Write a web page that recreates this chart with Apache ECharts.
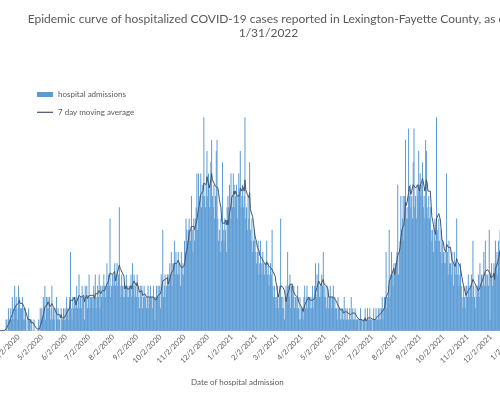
<!DOCTYPE html>
<html>
<head>
<meta charset="utf-8">
<script src="https://cdn.jsdelivr.net/npm/echarts@6/dist/echarts.min.js"></script>
<style>
html,body{margin:0;padding:0;background:#fff;overflow:hidden;width:500px;height:395px;}
#chart{position:absolute;left:-10px;top:0;width:557px;height:395px;}
</style>
</head>
<body>
<div id="chart"></div>
<script>
// ---- data ----
const titleText = 'Epidemic curve of hospitalized COVID-19 cases reported in Lexington-Fayette County, as of\n1/31/2022';
const xAxisTitle = 'Date of hospital admission';
const seriesNames = ['hospital admissions', '7 day moving average'];
const firstDate = '2020-03-02';   // first category (day)
const lastDate = '2022-01-31';    // last category (day)
const tickDay = 2;                // axis labels on the 2nd of every month
// daily hospital admissions, one row per week starting 3/2/2020
const admissions = [
  0,0,0,0,0,0,0,
  0,0,0,0,0,0,0,
  0,1,1,0,2,1,1,
  2,1,3,2,1,4,2,
  3,2,1,4,3,2,2,
  2,3,1,2,1,2,0,
  1,0,2,1,1,0,1,
  0,0,1,0,0,0,0,
  0,1,0,2,1,2,1,
  3,2,4,1,3,2,3,
  2,3,1,2,4,1,2,
  1,2,0,3,1,2,1,
  1,0,2,1,1,2,1,
  2,1,3,2,1,2,3,
  7,2,1,3,2,3,2,
  3,4,2,3,5,2,3,
  2,4,3,3,1,4,3,
  4,2,3,5,2,3,3,
  3,2,4,3,5,2,3,
  4,3,5,2,4,3,4,
  3,5,4,3,4,6,4,
  5,4,10,3,4,5,4,
  5,6,4,5,6,4,5,
  11,4,3,5,4,3,4,
  3,4,5,3,4,3,4,
  4,5,3,6,4,5,3,
  4,3,5,4,3,2,4,
  3,4,2,3,4,3,3,
  2,3,4,2,3,4,3,
  3,2,4,3,1,3,4,
  3,4,3,4,2,5,4,
  9,3,4,5,3,4,5,
  5,4,6,5,7,4,6,
  6,8,5,7,6,5,7,
  5,6,4,7,5,6,5,
  8,7,10,9,8,9,10,
  9,8,12,9,7,10,8,
  10,11,14,9,14,12,11,
  14,11,13,12,19,12,11,
  13,16,12,14,11,13,15,
  17,12,11,13,10,12,16,
  17,10,8,9,7,10,8,
  15,9,8,10,9,7,11,
  12,11,13,10,14,12,11,
  14,13,11,12,13,10,12,
  14,12,16,11,12,13,11,
  12,19,10,11,9,12,10,
  15,9,8,10,7,8,9,
  8,7,6,7,8,5,6,
  8,6,5,7,6,5,6,
  6,8,5,6,4,5,6,
  5,9,4,3,4,3,2,
  3,4,2,3,4,10,3,
  2,3,2,1,3,4,3,
  7,4,3,5,2,4,4,
  3,4,2,3,3,2,4,
  2,1,3,1,2,2,1,
  3,4,2,3,4,2,3,
  3,2,3,2,4,2,3,
  4,6,3,5,4,6,3,
  4,3,5,4,7,3,4,
  3,2,4,3,2,3,4,
  3,2,3,4,2,3,2,
  2,1,3,2,2,1,2,
  1,2,1,3,1,2,1,
  2,1,1,2,1,3,1,
  2,1,1,2,1,1,1,
  1,0,1,2,1,1,0,
  1,1,2,0,1,2,1,
  1,2,1,1,0,1,2,
  1,1,2,1,1,2,1,
  2,1,2,3,1,2,3,
  3,7,2,3,4,9,3,
  5,7,5,4,6,5,6,
  6,7,13,5,7,8,12,
  9,10,12,8,12,17,10,
  11,10,18,12,13,11,12,
  10,15,18,11,12,10,13,
  12,16,13,14,12,13,15,
  11,12,10,17,16,11,10,
  12,10,11,9,8,9,7,
  9,10,8,19,9,8,10,
  8,7,9,6,8,7,6,
  7,6,14,7,5,8,6,
  6,5,7,6,4,7,5,
  6,10,5,6,4,5,6,
  4,3,2,4,3,2,4,
  4,3,5,4,3,4,5,
  3,8,4,3,2,4,3,
  4,5,3,6,4,5,4,
  5,7,4,8,5,4,5,
  4,9,1,5,6,4,5,
  6,5,8,6,7,5,8,
  7,9,6,8,10,7,9,
  9,8,11,10,9,12,10,
  11,10,13,12,9,14,11,
  12,14,11,15,13,12,16,
  14,13,17,15,12,16,14,
  15,13,16,14,17,12,15,
  14,16,13,15,12,14,13,
  12
];
const maWindow = 7;
const yMin = 0, yMax = 20;

// ---- build categories (one per day) ----
function fmt(d){ return (d.getUTCMonth()+1) + '/' + d.getUTCDate() + '/' + d.getUTCFullYear(); }
const dates = [];
{
  const d = new Date(firstDate + 'T00:00:00Z');
  const end = new Date(lastDate + 'T00:00:00Z');
  while (d <= end) { dates.push(fmt(d)); d.setUTCDate(d.getUTCDate() + 1); }
}
// trailing 7-day moving average of the admissions (as the chart's own trendline)
const movingAvg = admissions.map((v, i) => {
  if (i < maWindow - 1) return null;
  let s = 0; for (let k = i - maWindow + 1; k <= i; k++) s += admissions[k];
  return +(s / maWindow).toFixed(3);
});

const FONT = 'Lato';
const GREY = '#595959';
const LINE = '#44546A';
const BAR = '#5B9BD5';
const chart = echarts.init(document.getElementById('chart'), null, {renderer: 'canvas'});
chart.setOption({
  animation: false,
  backgroundColor: '#ffffff',
  title: {
    text: titleText,
    left: 'center',
    top: 12,
    padding: 0,
    textStyle: {fontFamily: FONT, fontSize: 12, fontWeight: 'normal', color: GREY, lineHeight: 14}
  },
  legend: [
    {
      orient: 'vertical',
      left: 47,
      top: 90,
      padding: 0,
      itemWidth: 16,
      itemHeight: 5,
      textStyle: {fontFamily: FONT, fontSize: 8, color: GREY, lineHeight: 9},
      data: [{name: seriesNames[0], icon: 'rect'}]
    },
    {
      orient: 'vertical',
      left: 47,
      top: 107.8,
      padding: 0,
      itemWidth: 16,
      itemHeight: 1.2,
      textStyle: {fontFamily: FONT, fontSize: 8, color: GREY, lineHeight: 9},
      data: [{name: seriesNames[1], icon: 'rect', itemStyle: {color: LINE}}]
    }
  ],
  grid: {left: 4.1, right: 9.3, top: 106.1, bottom: 64.3, containLabel: false, outerBoundsMode: 'none'},
  xAxis: {
    type: 'category',
    data: dates,
    boundaryGap: true,
    axisLine: {show: true, lineStyle: {color: '#D9D9D9', width: 1}},
    axisTick: {show: false},
    splitLine: {show: false},
    axisLabel: {
      interval: (idx, val) => val.split('/')[1] === String(tickDay),
      rotate: 45,
      margin: 5,
      fontFamily: FONT,
      fontSize: 7.5,
      color: GREY
    }
  },
  yAxis: {
    type: 'value',
    min: yMin, max: yMax,
    show: false,
    splitLine: {show: false}
  },
  graphic: [{
    type: 'text',
    left: 249 - 48, top: 378,
    style: {text: xAxisTitle, fontFamily: FONT, fontSize: 8, fill: GREY}
  }],
  series: [
    {
      name: seriesNames[0],
      type: 'bar',
      data: admissions,
      barCategoryGap: '0%',
      itemStyle: {color: BAR},
      z: 2
    },
    {
      name: seriesNames[1],
      type: 'line',
      data: movingAvg,
      symbol: 'none',
      showSymbol: false,
      smooth: false,
      lineStyle: {color: LINE, width: 1},
      itemStyle: {color: LINE},
      z: 3
    }
  ]
});
</script>
</body>
</html>
